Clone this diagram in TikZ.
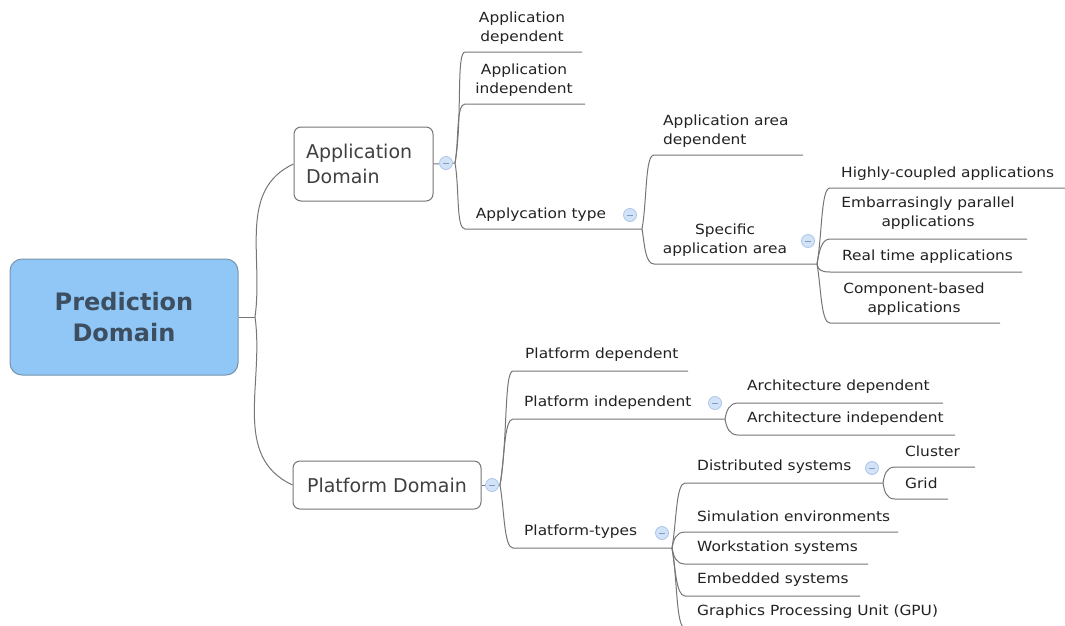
\documentclass[tikz,border=0pt]{standalone}
\usepackage{fontspec}
\setmainfont{DejaVu Sans}
\newfontfamily\itemfont[FakeStretch=1.1]{DejaVu Sans}
\newfontfamily\boxfont{DejaVu Sans}
\newfontfamily\mainfont{DejaVu Sans}
\definecolor{linec}{HTML}{767676}
\definecolor{txtc}{HTML}{222222}
\definecolor{boxtxt}{HTML}{404040}
\definecolor{mainfill}{HTML}{90C7F6}
\definecolor{maindraw}{HTML}{7594AE}
\definecolor{maintxt}{HTML}{3C4E5F}
\definecolor{colf}{HTML}{D3E3F7}
\definecolor{colb}{HTML}{A9C5EA}
\definecolor{colm}{HTML}{7E9CC4}
\tikzset{
  link/.style={draw=linec, line width=1pt},
  itm/.style={font=\fontsize{14}{19.5}\selectfont\itemfont, text=txtc, inner sep=0pt, anchor=west, align=left},
  itmc/.style={font=\fontsize{14}{19.5}\selectfont\itemfont, text=txtc, inner sep=0pt, align=center},
  subbox/.style={draw=linec, line width=1pt, rounded corners=7pt, fill=white, font=\fontsize{19}{25}\selectfont\boxfont, text=boxtxt, align=left},
  mainbox/.style={draw=maindraw, line width=1pt, rounded corners=12pt, fill=mainfill, font=\fontsize{24}{31}\selectfont\bfseries\mainfont, text=maintxt, align=center, minimum width=228pt, minimum height=116pt},
  collapse/.style={circle, draw=colb, fill=colf, minimum size=13pt, inner sep=0pt, line width=0.8pt,
    path picture={\draw[colm, line width=0.8pt] ([xshift=-3pt]path picture bounding box.center) -- ([xshift=3pt]path picture bounding box.center);}},
  up/.style={out=80, in=180, in distance=9pt},
  down/.style={out=-80, in=180, in distance=9pt}
}
\begin{document}
\begin{tikzpicture}[x=1pt,y=1pt]
\useasboundingbox (0,0) rectangle (1065,-625);
\fill[white] (0,0) rectangle (1065,-625);
\clip (0,0) rectangle (1065,-625);

% main and domain boxes
\node[mainbox] (pd) at (124,-317) {Prediction\\Domain};
\node[subbox, text width=115pt, inner xsep=12pt, minimum height=74pt] (ad) at (363.5,-164) {Application\\Domain};
\node[subbox, minimum width=188pt, minimum height=48pt] (pfd) at (387,-485) {Platform Domain};
\coordinate (m0) at (255,-317);
\draw[link] (pd.east) -- (m0);
\draw[link] (m0) to[out=82, in=205] (ad.west);
\draw[link] (m0) to[out=-82, in=155] (pfd.west);

% ---------------- Application branch ----------------
\coordinate (s1) at (455,-163);
\draw[link] (ad.east) -- (s1);

\node[itmc] (t1) at (522,-28) {Application\\dependent};
\coordinate (t1s) at (465,-52); \coordinate (t1e) at (582,-52);
\node[itmc] (t2) at (524,-80) {Application\\independent};
\coordinate (t2s) at (465,-104); \coordinate (t2e) at (585,-104);
\node[itmc] (t3) at (541,-215) {Applycation type};
\coordinate (t3s) at (465,-229); \coordinate (t3e) at (642,-229);
\draw[link] (s1) to[up] (t1s) -- (t1e);
\draw[link] (s1) to[up] (t2s) -- (t2e);
\draw[link] (s1) to[down] (t3s) -- (t3e);

\node[itm] (t4) at (663,-131) {Application area\\dependent};
\coordinate (t4s) at (654,-155); \coordinate (t4e) at (803,-155);
\node[itmc] (t5) at (725,-240) {Specific\\application area};
\coordinate (t5s) at (654,-264); \coordinate (t5e) at (817,-264);
\draw[link] (t3e) to[up] (t4s) -- (t4e);
\draw[link] (t3e) to[down] (t5s) -- (t5e);

\node[itm] (t6) at (841,-174) {Highly-coupled applications};
\coordinate (t6s) at (830,-188); \coordinate (t6e) at (1065,-188);
\node[itmc] (t7) at (928,-213) {Embarrasingly parallel\\applications};
\coordinate (t7s) at (830,-239); \coordinate (t7e) at (1027,-239);
\node[itm] (t8) at (842,-257) {Real time applications};
\coordinate (t8s) at (830,-272); \coordinate (t8e) at (1022,-272);
\node[itmc] (t9) at (914,-299) {Component-based\\applications};
\coordinate (t9s) at (830,-323); \coordinate (t9e) at (1000,-323);
\draw[link] (t5e) to[up] (t6s) -- (t6e);
\draw[link] (t5e) to[up] (t7s) -- (t7e);
\draw[link] (t5e) to[down] (t8s) -- (t8e);
\draw[link] (t5e) to[down] (t9s) -- (t9e);

% ---------------- Platform branch ----------------
\coordinate (s2) at (500,-485);
\draw[link] (pfd.east) -- (s2);

\node[itm] (p1) at (525,-355) {Platform dependent};
\coordinate (p1s) at (513,-371); \coordinate (p1e) at (688,-371);
\node[itm] (p2) at (524,-403) {Platform independent};
\coordinate (p2s) at (513,-419); \coordinate (p2e) at (725,-419);
\node[itm] (p3) at (524,-532) {Platform-types};
\coordinate (p3s) at (513,-548); \coordinate (p3e) at (672,-548);
\draw[link] (s2) to[up] (p1s) -- (p1e);
\draw[link] (s2) to[up] (p2s) -- (p2e);
\draw[link] (s2) to[down] (p3s) -- (p3e);

\node[itm] (p4) at (747,-387) {Architecture dependent};
\coordinate (p4s) at (738,-403); \coordinate (p4e) at (943,-403);
\node[itm] (p5) at (747,-419) {Architecture independent};
\coordinate (p5s) at (738,-435); \coordinate (p5e) at (955,-435);
\draw[link] (p2e) to[up] (p4s) -- (p4e);
\draw[link] (p2e) to[down] (p5s) -- (p5e);

\node[itm] (p6) at (697,-467) {Distributed systems};
\coordinate (p6s) at (685,-483); \coordinate (p6e) at (883,-483);
\node[itm] (p7) at (697,-516) {Simulation environments};
\coordinate (p7s) at (685,-532); \coordinate (p7e) at (898,-532);
\node[itm] (p8) at (697,-548) {Workstation systems};
\coordinate (p8s) at (685,-564); \coordinate (p8e) at (868,-564);
\node[itm] (p9) at (697,-580) {Embedded systems};
\coordinate (p9s) at (685,-596); \coordinate (p9e) at (860,-596);
\node[itm] (p10) at (697,-612) {Graphics Processing Unit (GPU)};
\coordinate (p10s) at (685,-628); \coordinate (p10e) at (945,-628);
\draw[link] (p3e) to[up] (p6s) -- (p6e);
\draw[link] (p3e) to[up] (p7s) -- (p7e);
\draw[link] (p3e) to[down] (p8s) -- (p8e);
\draw[link] (p3e) to[down] (p9s) -- (p9e);
\draw[link] (p3e) to[down] (p10s) -- (p10e);

\node[itm] (p11) at (905,-451) {Cluster};
\coordinate (p11s) at (895,-467); \coordinate (p11e) at (975,-467);
\node[itm] (p12) at (905,-483) {Grid};
\coordinate (p12s) at (895,-499); \coordinate (p12e) at (948,-499);
\draw[link] (p6e) to[up] (p11s) -- (p11e);
\draw[link] (p6e) to[down] (p12s) -- (p12e);

% collapse markers
\node[collapse] (c1) at (446,-163) {};
\node[collapse] (c2) at (492,-485) {};
\node[collapse] (c3) at (630,-215) {};
\node[collapse] (c4) at (808,-241) {};
\node[collapse] (c5) at (715,-403) {};
\node[collapse] (c6) at (662,-533) {};
\node[collapse] (c7) at (872,-468) {};
\end{tikzpicture}
\end{document}
